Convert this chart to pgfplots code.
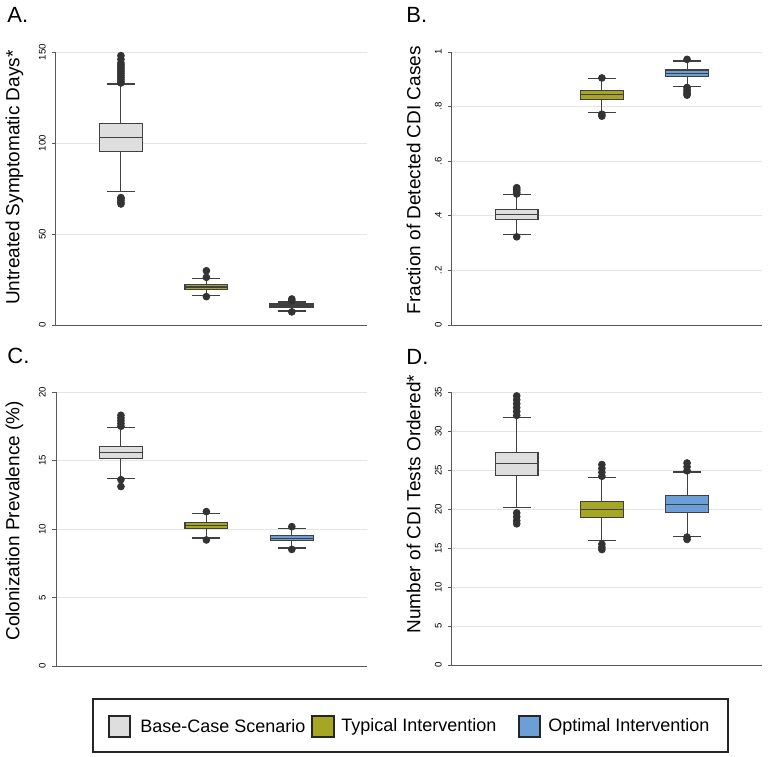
\documentclass[border=0pt]{standalone}
\usepackage{fontspec}
\setmainfont{Liberation Sans}
\usepackage{pgfplots}
\pgfplotsset{compat=1.18}
\usepgfplotslibrary{statistics}

\definecolor{basefill}{HTML}{DEDEDE}
\definecolor{typfill}{HTML}{A6A625}
\definecolor{optfill}{HTML}{6C9FD5}
\definecolor{outl}{HTML}{333333}

\pgfplotsset{
  panel/.style={
    anchor=north west, scale only axis,
    xmin=0.24, xmax=3.88, ymin=0,
    boxplot/draw direction=y,
    axis x line*=bottom, axis y line*=left,
    axis line style={-, draw=black!65, line width=0.5pt},
    x axis line style={-}, y axis line style={-},
    xtick=\empty,
    ymajorgrids, grid style={draw=black!10, line width=0.5pt},
    tick align=outside, major tick length=2pt,
    ytick style={draw=black!65, line width=0.4pt},
    yticklabel style={rotate=90, anchor=south, inner sep=0pt, yshift=3pt,
      font=\fontsize{4.8}{5.5}\selectfont},
    /pgf/number format/assume math mode=true,
    label style={font=\fontsize{9.5}{11}\selectfont},
    clip=false,
  },
  bx/.style={draw=black!75, line width=0.55pt, fill=#1,
    boxplot/box extend=0.5, boxplot/whisker extend=0.33},
  out/.style={only marks, mark=*, mark size=1.7pt,
    mark options={draw=outl, fill=outl}},
}

\begin{document}
\begin{tikzpicture}
\useasboundingbox (0,0) rectangle (384pt,-378.5pt);

% A
\begin{axis}[panel, at={(28pt,-26pt)}, width=155.5pt, height=136.5pt,
  ymax=150, ytick={0,50,100,150},
  ylabel={Untreated Symptomatic Days*},
  ylabel style={at={(axis description cs:0,0.54)}, anchor=center, yshift=20.75pt}]
\addplot[bx=basefill, boxplot prepared={draw position=1, lower whisker=73.5,
  lower quartile=95.5, median=103, upper quartile=110.5, upper whisker=132.4}] coordinates {};
\addplot[out] coordinates {(1,133)(1,134)(1,135)(1,136)(1,137)(1,138)(1,139)(1,140)
  (1,141)(1,142)(1,143)(1,144)(1,146)(1,148)(1,66.5)(1,67.5)(1,68.5)(1,69.5)(1,70)};
\addplot[bx=typfill, boxplot prepared={draw position=2, lower whisker=16.3,
  lower quartile=19.6, median=20.9, upper quartile=22.3, upper whisker=25.6}] coordinates {};
\addplot[out] coordinates {(2,29.8)(2,26.2)(2,15.6)};
\addplot[bx=black!85, line width=1pt, boxplot prepared={draw position=3, lower whisker=7.7,
  lower quartile=9.7, median=10.5, upper quartile=11.3, upper whisker=12.8}] coordinates {};
\addplot[out] coordinates {(3,14.3)(3,13.4)(3,7.2)};
\end{axis}

% B
\begin{axis}[panel, at={(226pt,-26pt)}, width=155pt, height=136.5pt,
  ymax=1, ytick={0,0.2,0.4,0.6,0.8,1}, yticklabels={0,.2,.4,.6,.8,1},
  ylabel={Fraction of Detected CDI Cases},
  ylabel style={at={(axis description cs:0,0.53)}, anchor=center, yshift=19.25pt}]
\addplot[bx=basefill, boxplot prepared={draw position=1, lower whisker=0.333,
  lower quartile=0.385, median=0.405, upper quartile=0.423, upper whisker=0.477}] coordinates {};
\addplot[out] coordinates {(1,0.480)(1,0.486)(1,0.492)(1,0.498)(1,0.503)(1,0.323)};
\addplot[bx=typfill, boxplot prepared={draw position=2, lower whisker=0.780,
  lower quartile=0.826, median=0.843, upper quartile=0.859, upper whisker=0.903}] coordinates {};
\addplot[out] coordinates {(2,0.905)(2,0.772)(2,0.765)};
\addplot[bx=optfill, boxplot prepared={draw position=3, lower whisker=0.874,
  lower quartile=0.909, median=0.922, upper quartile=0.934, upper whisker=0.967}] coordinates {};
\addplot[out] coordinates {(3,0.973)(3,0.870)(3,0.862)(3,0.855)(3,0.848)(3,0.842)};
\end{axis}

% C
\begin{axis}[panel, at={(28pt,-196pt)}, width=155.5pt, height=137pt,
  ymax=20, ytick={0,5,10,15,20},
  ylabel={Colonization Prevalence (\%)},
  ylabel style={at={(axis description cs:0,0.53)}, anchor=center, yshift=20.75pt}]
\addplot[bx=basefill, boxplot prepared={draw position=1, lower whisker=13.7,
  lower quartile=15.12, median=15.59, upper quartile=16.02, upper whisker=17.44}] coordinates {};
\addplot[out] coordinates {(1,17.5)(1,17.7)(1,17.9)(1,18.1)(1,18.3)(1,13.6)(1,13.1)};
\addplot[bx=typfill, boxplot prepared={draw position=2, lower whisker=9.34,
  lower quartile=10.02, median=10.24, upper quartile=10.46, upper whisker=11.12}] coordinates {};
\addplot[out] coordinates {(2,11.27)(2,9.2)};
\addplot[bx=optfill, boxplot prepared={draw position=3, lower whisker=8.61,
  lower quartile=9.15, median=9.32, upper quartile=9.51, upper whisker=10.05}] coordinates {};
\addplot[out] coordinates {(3,10.17)(3,8.51)};
\end{axis}

% D
\begin{axis}[panel, at={(226pt,-196pt)}, width=155pt, height=136.5pt,
  ymax=35, ytick={0,5,10,15,20,25,30,35},
  ylabel={Number of CDI Tests Ordered*},
  ylabel style={at={(axis description cs:0,0.59)}, anchor=center, yshift=19.25pt}]
\addplot[bx=basefill, boxplot prepared={draw position=1, lower whisker=20.19,
  lower quartile=24.33, median=25.78, upper quartile=27.3, upper whisker=31.75}] coordinates {};
\addplot[out] coordinates {(1,32)(1,32.5)(1,33)(1,33.5)(1,34)(1,34.5)(1,19.5)(1,19)(1,18.5)(1,18.1)};
\addplot[bx=typfill, boxplot prepared={draw position=2, lower whisker=15.92,
  lower quartile=18.95, median=19.97, upper quartile=21.0, upper whisker=24.03}] coordinates {};
\addplot[out] coordinates {(2,24.2)(2,24.7)(2,25.2)(2,25.7)(2,15.5)(2,15.1)(2,14.8)};
\addplot[bx=optfill, boxplot prepared={draw position=3, lower whisker=16.47,
  lower quartile=19.59, median=20.61, upper quartile=21.68, upper whisker=24.75}] coordinates {};
\addplot[out] coordinates {(3,24.9)(3,25.4)(3,25.9)(3,16.4)(3,16.1)};
\end{axis}

% panel letters
\begin{scope}[font=\fontsize{11}{12}\selectfont, inner sep=0pt]
\node[anchor=west] at (3.5pt,-7.25pt) {A.};
\node[anchor=west] at (203pt,-7.25pt) {B.};
\node[anchor=west] at (3.5pt,-178pt) {C.};
\node[anchor=west] at (203pt,-178.5pt) {D.};
\end{scope}

% legend
\draw[black!85, line width=0.6pt] (46.5pt,-349.5pt) rectangle (364pt,-376pt);
\begin{scope}[font=\fontsize{9}{10}\selectfont]
\draw[black!85, line width=0.6pt, fill=basefill] (54.5pt,-358pt) rectangle (65pt,-368.5pt);
\node[anchor=west, inner sep=0pt] at (70pt,-363.25pt) {Base-Case Scenario};
\draw[black!85, line width=0.6pt, fill=typfill] (156pt,-358pt) rectangle (167pt,-368.5pt);
\node[anchor=west, inner sep=0pt] at (170.5pt,-363.25pt) {Typical Intervention};
\draw[black!85, line width=0.6pt, fill=optfill] (259.5pt,-358pt) rectangle (270pt,-368.5pt);
\node[anchor=west, inner sep=0pt] at (274pt,-363.25pt) {Optimal Intervention};
\end{scope}
\end{tikzpicture}
\end{document}
